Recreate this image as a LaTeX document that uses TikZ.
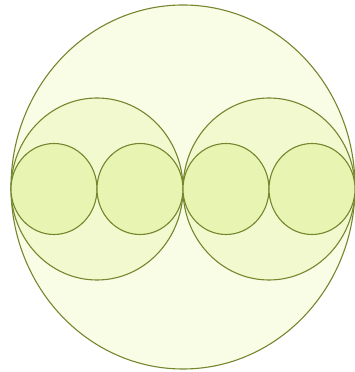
\documentclass[tikz,border=0pt]{standalone}
\usepackage{tikz}

\definecolor{rimgreen}{HTML}{74862E}
\definecolor{paleone}{HTML}{FAFDE6}
\definecolor{paletwo}{HTML}{F2F9CE}
\definecolor{palethree}{HTML}{E8F5B2}

\begin{document}
\begin{tikzpicture}[
  x=1pt, y=1pt,
  ring/.style={draw=rimgreen, line width=1.1pt},
  outer/.style={ring, fill=paleone},
  middle/.style={ring, fill=paletwo},
  inner/.style={ring, fill=palethree}
]
\useasboundingbox (0,0) rectangle (355,372);

% ---------- Outer circle ----------
\draw[outer] (183,185) ellipse [x radius=172, y radius=182];

% ---------- Middle circles ----------
\foreach \x in {97,269}
  \draw[middle] (\x,183) ellipse [x radius=86, y radius=91];

% ---------- Inner circles ----------
\foreach \x in {54,140,226,312}
  \draw[inner] (\x,183) ellipse [x radius=43, y radius=45.5];

\end{tikzpicture}
\end{document}
